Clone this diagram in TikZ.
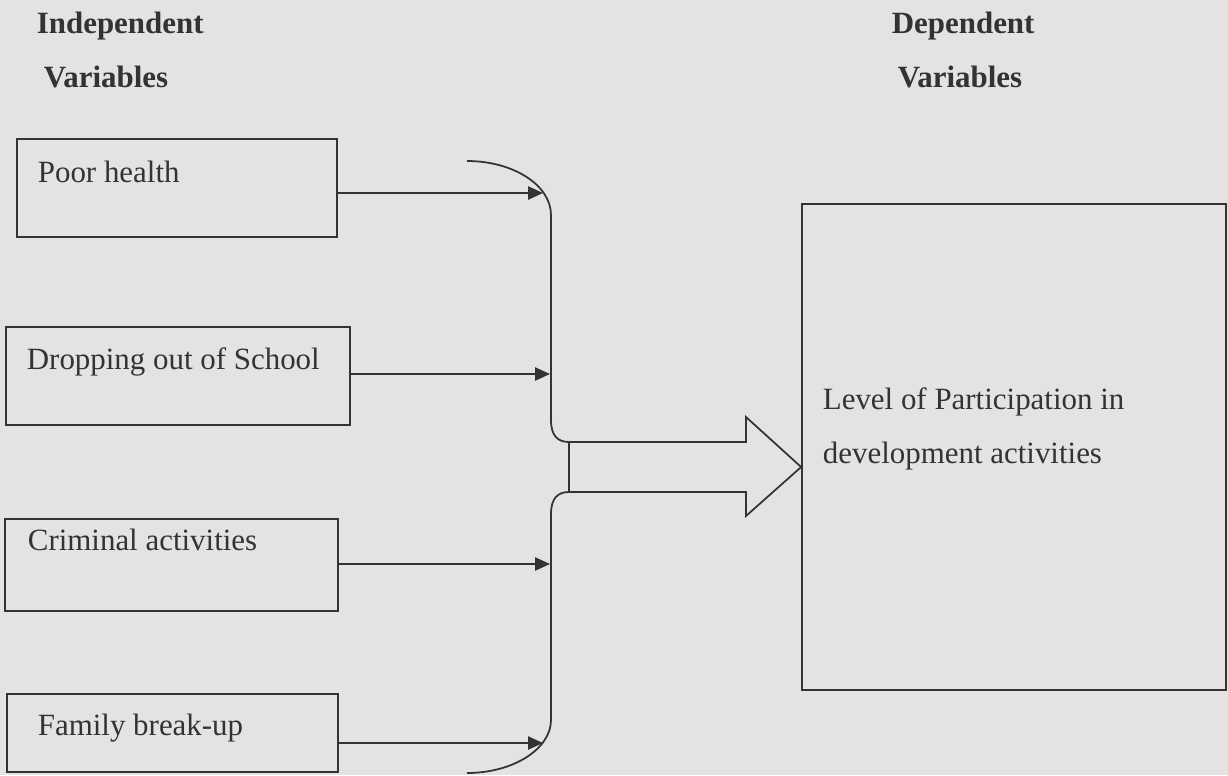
\documentclass[tikz,border=0pt]{standalone}
\usepackage{fontspec}
\setmainfont{Liberation Serif}
\usetikzlibrary{arrows.meta,fit}

\definecolor{paper}{gray}{0.89}
\definecolor{ink}{gray}{0.2}

\begin{document}
\begin{tikzpicture}[x=0.02cm,y=-0.02cm,line width=1pt,line join=miter,
  box/.style={draw=ink,line width=1pt,inner sep=0pt},
  lbl/.style={anchor=base west,inner sep=0pt,text=ink,font=\fontsize{17.6}{21}\selectfont},
  head/.style={lbl,font=\bfseries\fontsize{17.6}{21}\selectfont},
  feed/.style={draw=ink,-{Triangle[length=8.5pt,width=7.5pt]}}]

  % -------- PAGE --------
  \fill[paper] (0,0) rectangle (1228,775);
  \useasboundingbox (0,0) rectangle (1228,775);

  % Headings
  \node[head] (indep)  at (36,33)  {Independent};
  \node[head] (indepv) at (43,87)  {Variables};
  \node[head] (dep)    at (891,33) {Dependent};
  \node[head] (depv)   at (897,87) {Variables};

  % -------- CAUSES --------
  \foreach \name/\xa/\ya/\xb/\yb in {health/17/139/337/237,school/6/327/350/425,
                                     crime/5/519/338/611,family/7/694/338/772} {
      \node[box,fit={(\xa,\ya) (\xb,\yb)}] (\name) {};
  }

  % Box texts
  \foreach \name/\x/\y/\txt in {health/37/182/Poor health,school/26/369/Dropping out of School,
                                crime/27/550/Criminal activities,family/37/735/Family break-up} {
      \node[lbl] (\name-txt) at (\x,\y) {\txt};
  }

  % Arrows into the bracket
  \foreach \name/\x/\y in {health/543/193,school/550/374,crime/550/564,family/543/743} {
      \coordinate (\name-in) at (\x,\y);
      \draw[feed] (\name.east |- \name-in) -- (\name-in);
  }

  % Bracket: upper and lower half
  \draw[ink] (467,161) .. controls (513,161) and (551,185) .. (551,215) -- (551,420)
             .. controls (551,436) and (558,442) .. (569,442);
  \draw[ink] (569,492) .. controls (558,492) and (551,498) .. (551,514) -- (551,720)
             .. controls (551,749) and (513,773) .. (467,773);

  % -------- OUTCOME --------
  \node[box,fit={(802,204) (1226,690)}] (outcome) {};
  \node[lbl] (outcome-a) at (822,409) {Level of Participation in};
  \node[lbl] (outcome-b) at (822,463) {development activities};

  % Block arrow
  \coordinate (tip) at (outcome.west |- 0,467);
  \draw[ink] (569,442) -- (746,442) -- (746,417) -- (tip) -- (746,516)
             -- (746,492) -- (569,492) -- cycle;

\end{tikzpicture}
\end{document}
